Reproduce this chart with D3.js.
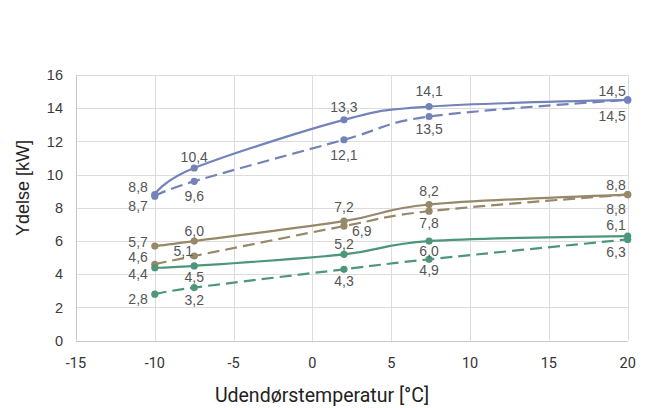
<!DOCTYPE html>
<html>
<head>
<meta charset="utf-8">
<script src="https://cdn.jsdelivr.net/npm/d3@7"></script>
<style>
  html, body { margin: 0; padding: 0; background: #fff; }
  svg { display: block; }
</style>
</head>
<body>
<svg id="chart" width="646" height="408"></svg>
<script>
// ---- data ----
const temps = [-10, -7.5, 2, 7.4, 20];
const xTicks = [-15, -10, -5, 0, 5, 10, 15, 20];
const yTicks = [0, 2, 4, 6, 8, 10, 12, 14, 16];

const blueSolid   = [8.8, 10.4, 13.3, 14.1, 14.5];
const blueDashed  = [8.7, 9.6, 12.1, 13.5, 14.5];
const brownSolid  = [5.7, 6.0, 7.2, 8.2, 8.8];
const brownDashed = [4.6, 5.1, 6.9, 7.8, 8.8];
const greenSolid  = [4.4, 4.5, 5.2, 6.0, 6.3];
const greenDashed = [2.8, 3.2, 4.3, 4.9, 6.1];

const blueSolidLabels   = ["8,8", "10,4", "13,3", "14,1", "14,5"];
const blueDashedLabels  = ["8,7", "9,6", "12,1", "13,5", "14,5"];
const brownSolidLabels  = ["5,7", "6,0", "7,2", "8,2", "8,8"];
const brownDashedLabels = ["4,6", "5,1", "6,9", "7,8", "8,8"];
const greenSolidLabels  = ["4,4", "4,5", "5,2", "6,0", "6,1"];
const greenDashedLabels = ["2,8", "3,2", "4,3", "4,9", "6,3"];

const xTitle = "Udendørstemperatur [°C]";
const yTitle = "Ydelse [kW]";

// ---- label placements (dx, dy of label centre, anchor) ----
const P = {
  L: (dy) => ({dx: -7, dy, anchor: "end"}),
  C: (dy) => ({dx: 0, dy, anchor: "middle"}),
  E: (dy) => ({dx: -2, dy, anchor: "end"}),
  R: (dy) => ({dx: 8, dy, anchor: "start"}),
  UL: (dy) => ({dx: -11, dy, anchor: "middle"})
};

const series = [
  {values: blueSolid,   labels: blueSolidLabels,   color: "#7383b9", dashed: false,
   place: [P.L(-8), P.C(-11), P.C(-13), P.C(-16), P.E(-9)]},
  {values: blueDashed,  labels: blueDashedLabels,  color: "#7383b9", dashed: true,
   place: [P.L(10), P.C(15), P.C(15), P.C(12), P.E(16)]},
  {values: brownSolid,  labels: brownSolidLabels,  color: "#968868", dashed: false,
   place: [P.L(-4), P.C(-10), P.C(-14), P.C(-14), P.E(-10)]},
  {values: brownDashed, labels: brownDashedLabels, color: "#968868", dashed: true,
   place: [P.L(-7), P.UL(-5), P.R(5), P.C(12), P.E(14)]},
  {values: greenSolid,  labels: greenSolidLabels,  color: "#4e967a", dashed: false,
   place: [P.L(6), P.C(11), P.C(-10), P.C(10), P.E(-11)]},
  {values: greenDashed, labels: greenDashedLabels, color: "#4e967a", dashed: true,
   place: [P.L(5), P.C(12), P.C(12), P.C(11), P.E(13)]}
];

// ---- layout ----
const svg = d3.select("#chart");
const plotLeft = 76, plotRight = 627.7, plotTop = 75, plotBottom = 340.7;

const x = d3.scaleLinear().domain([-15, 20]).range([plotLeft, plotRight]);
const y = d3.scaleLinear().domain([0, 16]).range([plotBottom, plotTop]);

// gridlines
svg.append("g").selectAll("line").data(yTicks).join("line")
  .attr("x1", plotLeft).attr("x2", plotRight)
  .attr("y1", d => Math.round(y(d)) + 0.5).attr("y2", d => Math.round(y(d)) + 0.5)
  .attr("stroke", d => d === 0 ? "#c8c8c8" : "#dcdcdc").attr("stroke-width", 1);
svg.append("g").selectAll("line").data(xTicks).join("line")
  .attr("y1", plotTop).attr("y2", plotBottom)
  .attr("x1", d => Math.round(x(d)) + 0.5).attr("x2", d => Math.round(x(d)) + 0.5)
  .attr("stroke", d => d === -15 ? "#c8c8c8" : "#dcdcdc").attr("stroke-width", 1);

// y tick labels
svg.append("g").selectAll("text").data(yTicks).join("text")
  .attr("x", 63).attr("y", d => y(d))
  .attr("dy", "0.36em")
  .attr("text-anchor", "end")
  .attr("font-family", "Liberation Sans, Arial, sans-serif")
  .attr("font-size", 14.5)
  .attr("fill", "#3a3a3a")
  .text(d => d);

// x tick labels
svg.append("g").selectAll("text").data(xTicks).join("text")
  .attr("x", d => x(d)).attr("y", 363)
  .attr("dy", "0.36em")
  .attr("text-anchor", "middle")
  .attr("font-family", "Roboto, sans-serif")
  .attr("font-size", 14.5)
  .attr("fill", "#333")
  .text(d => d < 0 ? "-" + Math.abs(d) : d);

// axis titles
svg.append("text")
  .attr("x", 322).attr("y", 395)
  .attr("dy", "0.36em")
  .attr("text-anchor", "middle")
  .attr("font-family", "Roboto, sans-serif")
  .attr("font-size", 19.5)
  .attr("fill", "#222")
  .text(xTitle);

svg.append("text")
  .attr("transform", "translate(23,188) rotate(-90)")
  .attr("dy", "0.36em")
  .attr("text-anchor", "middle")
  .attr("font-family", "Liberation Sans, Arial, sans-serif")
  .attr("font-size", 18)
  .attr("fill", "#222")
  .text(yTitle);

// lines
const line = d3.line()
  .x((d, i) => x(temps[i]))
  .y(d => y(d))
  .curve(d3.curveCatmullRom.alpha(0));

const gLines = svg.append("g");
series.forEach(s => {
  gLines.append("path")
    .attr("d", line(s.values))
    .attr("fill", "none")
    .attr("stroke", s.color)
    .attr("stroke-width", 2.2)
    .attr("stroke-dasharray", s.dashed ? "12,6" : null)
    .attr("stroke-linecap", "butt");
});

// markers
series.forEach(s => {
  svg.append("g").selectAll("circle").data(s.values).join("circle")
    .attr("cx", (d, i) => x(temps[i]))
    .attr("cy", d => y(d))
    .attr("r", 3.6)
    .attr("fill", s.color);
});

// data labels
series.forEach(s => {
  svg.append("g").selectAll("text").data(s.values).join("text")
    .attr("x", (d, i) => x(temps[i]) + s.place[i].dx)
    .attr("y", (d, i) => y(d) + s.place[i].dy)
    .attr("dy", "0.36em")
    .attr("text-anchor", (d, i) => s.place[i].anchor)
    .attr("font-family", "Liberation Sans, Arial, sans-serif")
    .attr("font-size", 14)
    .attr("fill", "#555")
    .text((d, i) => s.labels[i]);
});
</script>
</body>
</html>
